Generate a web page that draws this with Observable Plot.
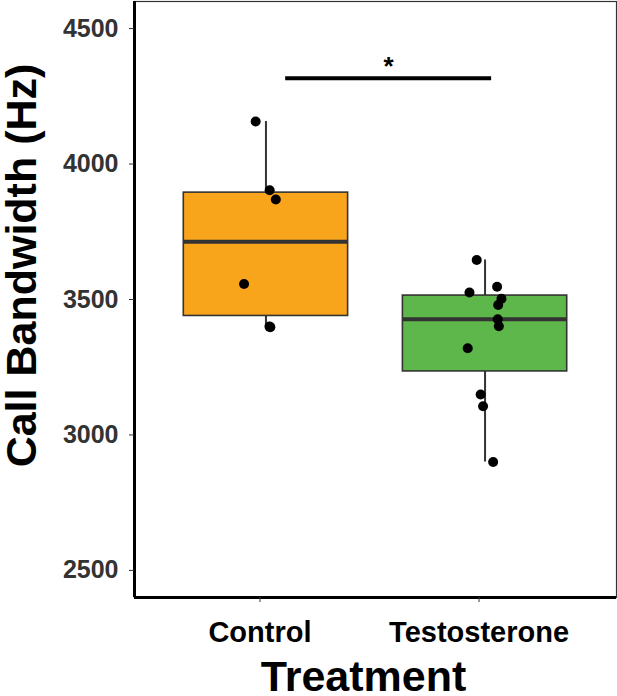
<!DOCTYPE html>
<html>
<head>
<meta charset="utf-8">
<script src="https://cdn.jsdelivr.net/npm/d3@7"></script>
<script src="https://cdn.jsdelivr.net/npm/@observablehq/plot@0.6"></script>
<style>
  html, body { margin: 0; padding: 0; background: #fff; }
  svg { display: block; }
</style>
</head>
<body>
<div id="chart"></div>
<script>
// ---- data ----
const groups = ["Control", "Testosterone"];
const groupColors = ["#F9A51B", "#5DB74A"];
const controlValues = [4157, 3903, 3869, 3557, 3400, 3398];
const controlJitter = [-0.047, 0.017, 0.045, -0.10, 0.016, 0.02];
const testoValues = [3646, 3526, 3547, 3503, 3480, 3427, 3401, 3320, 3149, 3106, 2900];
const testoJitter = [-0.038, -0.071, 0.055, 0.075, 0.060, 0.058, 0.063, -0.079, -0.020, -0.009, 0.037];
const yTicks = [2500, 3000, 3500, 4000, 4500];
const yTitle = "Call Bandwidth (Hz)";
const xTitle = "Treatment";
const sigLabel = "*";
const sigBar = {x1: 1.09, x2: 2.03, y: 4317};

// ---- derived tables ----
const seriesValues = [controlValues, testoValues];
const seriesJitter = [controlJitter, testoJitter];
const points = [];
seriesValues.forEach((vals, gi) => vals.forEach((v, j) => points.push({pos: gi + 1 + seriesJitter[gi][j], value: v})));

const stats = seriesValues.map((vals, gi) => {
  const s = vals.slice().sort(d3.ascending);
  const q1 = d3.quantile(s, 0.25), med = d3.quantile(s, 0.5), q3 = d3.quantile(s, 0.75);
  const iqr = q3 - q1;
  const lo = d3.min(s.filter(v => v >= q1 - 1.5 * iqr));
  const hi = d3.max(s.filter(v => v <= q3 + 1.5 * iqr));
  const c = gi + 1;
  return {c, x1: c - 0.375, x2: c + 0.375, q1, med, q3, lo, hi, fill: groupColors[gi]};
});

const font = "'Liberation Sans', Arial, Helvetica, sans-serif";

const chart = Plot.plot({
  width: 617,
  height: 696,
  marginLeft: 134,
  marginRight: 1,
  marginTop: 1,
  marginBottom: 99,
  style: {fontFamily: font, background: "#fff", overflow: "visible"},
  x: {domain: [0.4, 2.6], axis: null},
  y: {domain: [2400, 4600], axis: null},
  marks: [
    Plot.frame({stroke: "#333", strokeWidth: 1.2}),
    // whiskers
    Plot.ruleX(stats, {x: "c", y1: "q3", y2: "hi", stroke: "#333", strokeWidth: 2}),
    Plot.ruleX(stats, {x: "c", y1: "lo", y2: "q1", stroke: "#333", strokeWidth: 2}),
    // boxes
    Plot.rect(stats, {x1: "x1", x2: "x2", y1: "q1", y2: "q3", fill: "fill", stroke: "#333", strokeWidth: 1.6}),
    // medians
    Plot.ruleY(stats, {x1: "x1", x2: "x2", y: "med", stroke: "#333", strokeWidth: 4}),
    // jittered points
    Plot.dot(points, {x: "pos", y: "value", r: 5, fill: "black", stroke: "none"}),
    // significance bar
    Plot.ruleY([sigBar], {x1: "x1", x2: "x2", y: "y", stroke: "black", strokeWidth: 4}),
    Plot.text([sigLabel], {x: [(sigBar.x1 + sigBar.x2) / 2], y: [sigBar.y], text: d => d, dy: -3, lineAnchor: "bottom", fontSize: 26, fontWeight: "bold", fill: "black"}),
    // axes lines
    Plot.ruleX([0.4], {stroke: "black", strokeWidth: 3}),
    Plot.ruleY([2400], {stroke: "black", strokeWidth: 3}),
    // y axis
    Plot.axisY({ticks: yTicks, tickSize: 5, tickPadding: 11, tickFormat: d => String(d), fontSize: 25, fontWeight: "bold", fill: "#333", stroke: "#333", label: null}),
    // x axis
    Plot.axisX({ticks: [1, 2], tickSize: 5, tickPadding: 19, tickFormat: d => groups[d - 1], fontSize: 29, fontWeight: "bold", fill: "black", stroke: "#333", dx: -6, label: null}),
    // titles
    Plot.text([yTitle], {frameAnchor: "left", text: d => d, rotate: -90, dx: -99, dy: -34, lineAnchor: "bottom", textAnchor: "middle", fontSize: 43, fontWeight: "bold", fill: "black"}),
    Plot.text([xTitle], {frameAnchor: "bottom", text: d => d, dx: -12, dy: 93, lineAnchor: "bottom", textAnchor: "middle", fontSize: 43, fontWeight: "bold", fill: "black"})
  ]
});
document.getElementById("chart").appendChild(chart);
</script>
</body>
</html>
